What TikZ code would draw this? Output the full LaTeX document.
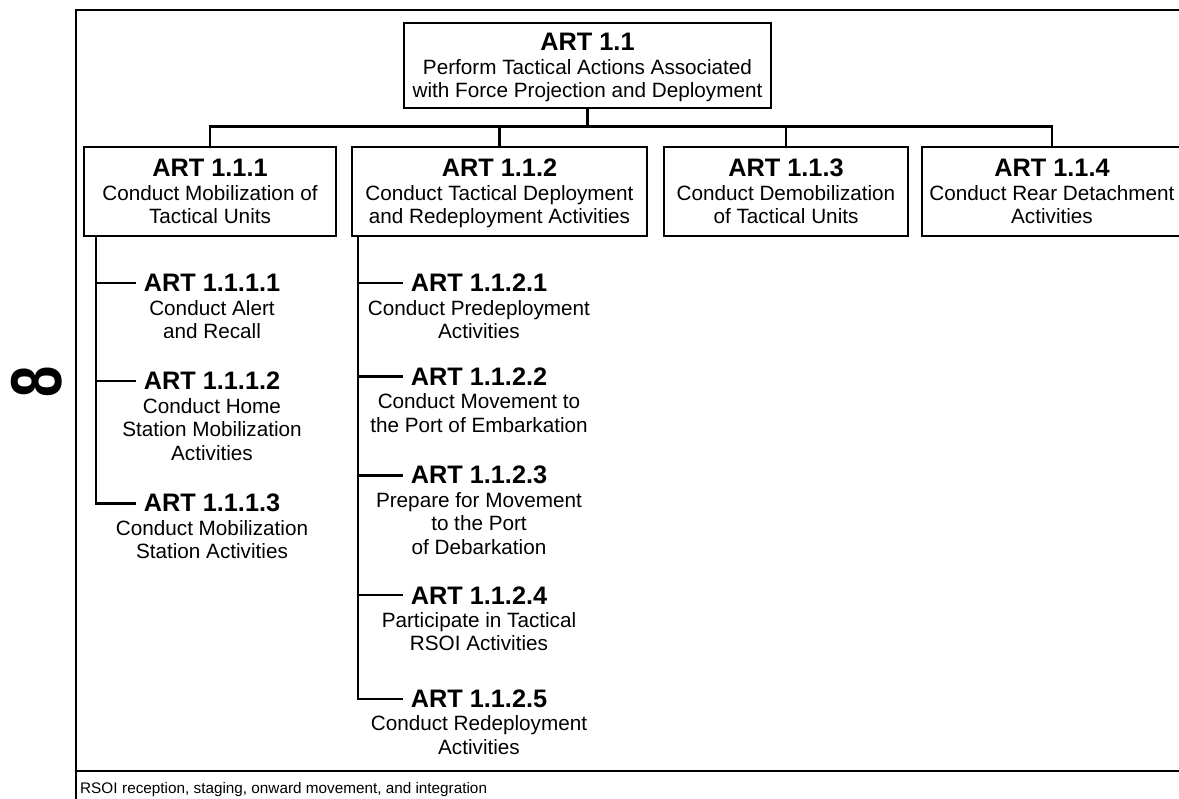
\documentclass[tikz,border=0pt]{standalone}
\usepackage{fontspec}
\setmainfont{Liberation Sans}
\newcommand\arttitle[1]{{\bfseries\fontsize{25.3}{24}\selectfont #1}}
\begin{document}
\begin{tikzpicture}[x=1pt,y=-1pt,
  every node/.style={font=\fontsize{20.7}{23.5}\selectfont},
  frame/.style={line width=2.4pt},
  box/.style={draw, line width=2.5pt, inner sep=0pt, align=center, text depth=0pt, minimum height=89pt},
  lowered/.style={text depth=-3pt},
  conn/.style={line width=2.4pt},
  subtitle/.style={font=\bfseries\fontsize{25.3}{24}\selectfont, inner xsep=8pt, inner ysep=0pt, anchor=base},
  desc/.style={inner sep=0pt, align=center, anchor=north},
]
\useasboundingbox (0,0) rectangle (1179,799);

% page frame and footer rule
\draw[frame] (76,800) -- (76,10) -- (1195,10);
\draw[frame] (76,771) -- (1195,771);

% page marker
\node[rotate=90, inner sep=0pt, font=\bfseries\fontsize{72}{72}\selectfont] (pg) at (36.5,382) {\scalebox{0.78}[1]{8}};

% top level
\node[box, minimum width=367pt, minimum height=85pt] (a11) at (587.5,65.5)
  {\arttitle{ART 1.1}\\Perform Tactical Actions Associated\\with Force Projection and Deployment};

% second level
\node[box, lowered, minimum width=252pt] (b1) at (210,191.5)
  {\arttitle{ART 1.1.1}\\Conduct Mobilization of\\Tactical Units};
\node[box, lowered, minimum width=295pt] (b2) at (499.5,191.5)
  {\arttitle{ART 1.1.2}\\Conduct Tactical Deployment\\and Redeployment Activities};
\node[box, lowered, minimum width=244pt] (b3) at (786,191.5)
  {\arttitle{ART 1.1.3}\\Conduct Demobilization\\of Tactical Units};
\node[box, lowered, minimum width=260pt] (b4) at (1052,191.5)
  {\arttitle{ART 1.1.4}\\Conduct Rear Detachment\\Activities};

% bus between the levels
\coordinate (bus) at (0,126.5);
\draw[conn] (a11.south) -- (a11.south |- bus);
\draw[conn] (b1.north) -- (b1.north |- bus) -- (b4.north |- bus) -- (b4.north);
\draw[conn] (b2.north) -- (b2.north |- bus);
\draw[conn] (b3.north) -- (b3.north |- bus);

% children of ART 1.1.1
\node[subtitle] (c111) at (212,292) {ART 1.1.1.1};
\node[desc] (d111) at ([yshift=-8.2pt]c111.base) {Conduct Alert\\and Recall};
\node[subtitle] (c112) at (212,390) {ART 1.1.1.2};
\node[desc] (d112) at ([yshift=-8.2pt]c112.base) {Conduct Home\\Station Mobilization\\Activities};
\node[subtitle] (c113) at (212,512) {ART 1.1.1.3};
\node[desc] (d113) at ([yshift=-8.2pt]c113.base) {Conduct Mobilization\\Station Activities};

% children of ART 1.1.2
\node[subtitle] (c121) at (479,292) {ART 1.1.2.1};
\node[desc] (d121) at ([yshift=-8.2pt]c121.base) {Conduct Predeployment\\Activities};
\node[subtitle] (c122) at (479,385.5) {ART 1.1.2.2};
\node[desc] (d122) at ([yshift=-8.2pt]c122.base) {Conduct Movement to\\the Port of Embarkation};
\node[subtitle] (c123) at (479,484) {ART 1.1.2.3};
\node[desc] (d123) at ([yshift=-8.2pt]c123.base) {Prepare for Movement\\to the Port\\of Debarkation};
\node[subtitle] (c124) at (479,604) {ART 1.1.2.4};
\node[desc] (d124) at ([yshift=-8.2pt]c124.base) {Participate in Tactical\\RSOI Activities};
\node[subtitle] (c125) at (479,707.5) {ART 1.1.2.5};
\node[desc] (d125) at ([yshift=-8.2pt]c125.base) {Conduct Redeployment\\Activities};

% trunks and hooks
\coordinate (t1) at ([xshift=13pt]b1.south west);
\draw[conn] (t1) |- (c113.west);
\draw[conn] (c111.west) -- (c111.west -| t1);
\draw[conn] (c112.west) -- (c112.west -| t1);
\coordinate (t2) at ([xshift=7pt]b2.south west);
\draw[conn] (t2) |- (c125.west);
\draw[conn] (c121.west) -- (c121.west -| t2);
\draw[conn] (c122.west) -- (c122.west -| t2);
\draw[conn] (c123.west) -- (c123.west -| t2);
\draw[conn] (c124.west) -- (c124.west -| t2);

% abbreviation footer
\node[inner sep=0pt, anchor=base west, font=\fontsize{15.3}{15}\selectfont] (abbr) at (80,793) {RSOI};
\node[inner sep=0pt, anchor=base west, font=\fontsize{15.3}{15}\selectfont] (abbrdef) at (122,793) {reception, staging, onward movement, and integration};
\end{tikzpicture}
\end{document}
